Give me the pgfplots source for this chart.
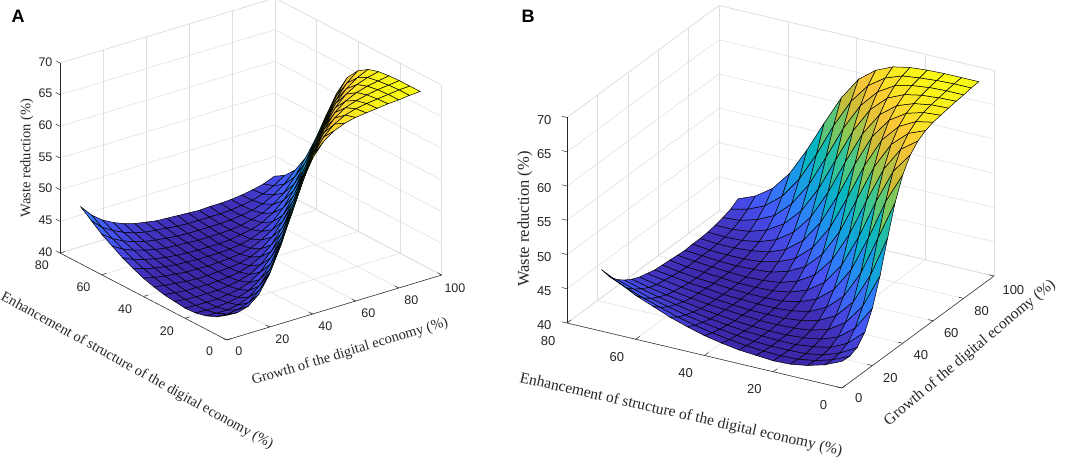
\documentclass[border=0pt]{standalone}
\usepackage{fontspec}
\setmainfont{Liberation Serif}
\setsansfont{Liberation Sans}
\usepackage{pgfplots}
\usepackage{pgfplotstable}
\pgfplotsset{compat=1.18}
\definecolor{axgray}{RGB}{38,38,38}
\definecolor{gridgray}{RGB}{222,222,222}
\pgfplotsset{colormap={parula}{rgb=(0.2422,0.1504,0.6603) rgb=(0.2803,0.3278,0.9604) rgb=(0.1800,0.5000,0.9800) rgb=(0.0800,0.6300,0.8800) rgb=(0.0250,0.7066,0.7580) rgb=(0.2186,0.7714,0.5832) rgb=(0.5312,0.7855,0.3386) rgb=(0.8200,0.7400,0.2100) rgb=(0.9900,0.7800,0.2200) rgb=(0.9769,0.9839,0.0805)}}
\pgfplotstableread{
x y z
0 0 43.9
5 0 43.8
10 0 44.3
15 0 45.7
20 0 48.4
25 0 52.3
30 0 57.0
35 0 61.4
40 0 64.6
45 0 66.7
50 0 67.9
55 0 68.6
60 0 69.0
65 0 69.2
70 0 69.4
75 0 69.6
80 0 69.7
85 0 69.9
90 0 70.0
0 5 42.8
5 5 42.7
10 5 42.9
15 5 43.5
20 5 44.9
25 5 47.3
30 5 51.0
35 5 55.6
40 5 60.1
45 5 63.7
50 5 66.1
55 5 67.6
60 5 68.5
65 5 69.0
70 5 69.3
75 5 69.5
80 5 69.7
85 5 69.9
90 5 70.0
0 10 42.1
5 10 42.0
10 10 42.0
15 10 42.3
20 10 43.0
25 10 44.3
30 10 46.5
35 10 49.9
40 10 54.2
45 10 58.7
50 10 62.6
55 10 65.4
60 10 67.2
65 10 68.3
70 10 68.9
75 10 69.3
80 10 69.6
85 10 69.8
90 10 70.0
0 15 41.7
5 15 41.6
10 15 41.6
15 15 41.8
20 15 42.1
25 15 42.7
30 15 43.9
35 15 45.9
40 15 49.0
45 15 53.0
50 15 57.4
55 15 61.5
60 15 64.6
65 15 66.7
70 15 68.0
75 15 68.8
80 15 69.3
85 15 69.6
90 15 69.9
0 20 41.6
5 20 41.5
10 20 41.5
15 20 41.5
20 20 41.7
25 20 42.0
30 20 42.6
35 20 43.7
40 20 45.5
45 20 48.2
50 20 51.9
55 20 56.2
60 20 60.3
65 20 63.7
70 20 66.1
75 20 67.7
80 20 68.7
85 20 69.3
90 20 69.7
0 25 41.8
5 25 41.6
10 25 41.5
15 25 41.5
20 25 41.5
25 25 41.7
30 25 42.0
35 25 42.5
40 25 43.5
45 25 45.1
50 25 47.6
55 25 50.9
60 25 55.0
65 25 59.1
70 25 62.7
75 25 65.4
80 25 67.2
85 25 68.4
90 25 69.2
0 30 42.0
5 30 41.8
10 30 41.6
15 30 41.6
20 30 41.5
25 30 41.6
30 30 41.7
35 30 42.0
40 30 42.5
45 30 43.4
50 30 44.8
55 30 47.0
60 30 50.1
65 30 53.9
70 30 58.0
75 30 61.7
80 30 64.6
85 30 66.7
90 30 68.1
0 35 42.4
5 35 42.1
10 35 41.9
15 35 41.7
20 35 41.6
25 35 41.6
30 35 41.7
35 35 41.8
40 35 42.0
45 35 42.5
50 35 43.3
55 35 44.6
60 35 46.6
65 35 49.4
70 35 53.0
75 35 56.9
80 35 60.7
85 35 63.8
90 35 66.2
0 40 42.9
5 40 42.5
10 40 42.2
15 40 42.0
20 40 41.8
25 40 41.8
30 40 41.7
35 40 41.8
40 40 41.9
45 40 42.1
50 40 42.5
55 40 43.3
60 40 44.4
65 40 46.2
70 40 48.8
75 40 52.1
80 40 55.9
85 40 59.7
90 40 62.9
0 45 43.6
5 45 43.0
10 45 42.6
15 45 42.3
20 45 42.1
25 45 42.0
30 45 41.9
35 45 41.9
40 45 41.9
45 45 42.0
50 45 42.2
55 45 42.6
60 45 43.3
65 45 44.3
70 45 46.0
75 45 48.3
80 45 51.3
85 45 54.9
90 45 58.6
0 50 44.4
5 50 43.6
10 50 43.1
15 50 42.7
20 50 42.4
25 50 42.2
30 50 42.1
35 50 42.0
40 50 42.0
45 50 42.0
50 50 42.1
55 50 42.4
60 50 42.7
65 50 43.3
70 50 44.3
75 50 45.8
80 50 47.9
85 50 50.7
90 50 54.1
0 55 45.4
5 55 44.4
10 55 43.7
15 55 43.2
20 55 42.8
25 55 42.5
30 55 42.4
35 55 42.3
40 55 42.2
45 55 42.2
50 55 42.2
55 55 42.3
60 55 42.5
65 55 42.9
70 55 43.4
75 55 44.3
80 55 45.6
85 55 47.6
90 55 50.1
0 60 46.4
5 60 45.2
10 60 44.3
15 60 43.7
20 60 43.2
25 60 42.9
30 60 42.7
35 60 42.5
40 60 42.4
45 60 42.4
50 60 42.4
55 60 42.4
60 60 42.5
65 60 42.7
70 60 43.0
75 60 43.5
80 60 44.4
85 60 45.6
90 60 47.3
0 65 47.7
5 65 46.1
10 65 45.1
15 65 44.3
20 65 43.7
25 65 43.3
30 65 43.1
35 65 42.9
40 65 42.7
45 65 42.6
50 65 42.6
55 65 42.6
60 65 42.6
65 65 42.7
70 65 42.9
75 65 43.2
80 65 43.7
85 65 44.5
90 65 45.6
0 70 49.0
5 70 47.2
10 70 45.9
15 70 45.0
20 70 44.3
25 70 43.8
30 70 43.5
35 70 43.2
40 70 43.1
45 70 43.0
50 70 42.9
55 70 42.8
60 70 42.9
65 70 42.9
70 70 43.0
75 70 43.2
80 70 43.5
85 70 43.9
90 70 44.6
}\wastedata
\pgfplotsset{
  wasteaxis/.style={
    anchor=origin,
    xmin=0,xmax=100,ymin=0,ymax=80,zmin=40,zmax=70,
    xtick={0,20,...,100}, ytick={0,20,...,80}, ztick={40,45,...,70},
    grid=major, grid style={gridgray, line width=0.5pt},
    axis line style={gridgray, line width=0.5pt},
    major tick length=0pt,
    /pgf/number format/assume math mode=true,
    colormap name=parula,
    point meta min=42.2, point meta max=70,
    clip=false,
    z buffer=sort,
  },
  wastesurf/.style={surf, shader=faceted, faceted color=black, line width=0.5pt, mesh/rows=15, mesh/cols=19},
}
\begin{document}
\begin{tikzpicture}
\useasboundingbox (0,0) rectangle (1065pt,461pt);
% Panel A
\begin{axis}[wasteaxis,
  at={(226.7pt,121pt)},
  x={(2.15pt,0.65pt)}, y={(-2.084pt,1.0875pt)}, z={(0pt,6.333pt)},
  ticklabel style={font=\sffamily\fontsize{12.5}{13}\selectfont, text=axgray},
  xticklabel style={xshift=7pt, yshift=-3pt},
  yticklabel style={xshift=-11pt, yshift=-3pt},
  zticklabel style={xshift=-4pt},
]
\addplot3[wastesurf] table {\wastedata};
\draw[axgray, line width=0.5pt] (axis cs:0,0,40) -- (axis cs:100,0,40);
\draw[axgray, line width=0.5pt] (axis cs:0,0,40) -- (axis cs:0,80,40);
\draw[axgray, line width=0.5pt] (axis cs:0,80,40) -- (axis cs:0,80,70);
\pgfplotsinvokeforeach{0,20,40,60,80,100}{\draw[axgray, line width=0.5pt] (axis cs:#1,0,40) -- (axis cs:#1,2,40);}
\pgfplotsinvokeforeach{0,20,40,60,80}{\draw[axgray, line width=0.5pt] (axis cs:0,#1,40) -- (axis cs:2.2,#1,40);}
\pgfplotsinvokeforeach{40,45,50,55,60,65,70}{\draw[axgray, line width=0.5pt] (axis cs:0,80,#1) -- (axis cs:0,82,#1);}
\end{axis}
% Panel B
\begin{axis}[wasteaxis,
  at={(842pt,73pt)},
  x={(1.52pt,1.12pt)}, y={(-3.4375pt,0.8125pt)}, z={(0pt,6.85pt)},
  ticklabel style={font=\sffamily\fontsize{13}{14}\selectfont, text=axgray},
  xticklabel style={xshift=10pt, yshift=-2pt},
  yticklabel style={xshift=-14pt, yshift=-8pt},
  zticklabel style={xshift=-12pt},
]
\addplot3[wastesurf] table {\wastedata};
\draw[axgray, line width=0.5pt] (axis cs:0,0,40) -- (axis cs:100,0,40);
\draw[axgray, line width=0.5pt] (axis cs:0,0,40) -- (axis cs:0,80,40);
\draw[axgray, line width=0.5pt] (axis cs:0,80,40) -- (axis cs:0,80,70);
\pgfplotsinvokeforeach{0,20,40,60,80,100}{\draw[axgray, line width=0.5pt] (axis cs:#1,0,40) -- (axis cs:#1,1.4,40);}
\pgfplotsinvokeforeach{0,20,40,60,80}{\draw[axgray, line width=0.5pt] (axis cs:0,#1,40) -- (axis cs:2.6,#1,40);}
\pgfplotsinvokeforeach{40,45,50,55,60,65,70}{\draw[axgray, line width=0.5pt] (axis cs:0,80,#1) -- (axis cs:0,81.5,#1);}
\end{axis}
% axis titles
\begin{scope}[every node/.style={text=axgray, inner sep=0pt}]
\node[font=\fontsize{14.5}{15}\selectfont, rotate=90] at (27pt,303pt) {Waste reduction (\%)};
\node[font=\fontsize{14.5}{15}\selectfont, rotate=16.8] at (350pt,109pt) {Growth of the digital economy (\%)};
\node[font=\fontsize{14.5}{15}\selectfont, rotate=-29] at (137pt,90pt) {Enhancement of structure of the digital economy (\%)};
\node[font=\fontsize{16.5}{17}\selectfont, rotate=90] at (525pt,242pt) {Waste reduction (\%)};
\node[font=\fontsize{15.5}{16}\selectfont, rotate=-12.8] at (681pt,46pt) {Enhancement of structure of the digital economy (\%)};
\node[font=\fontsize{15.5}{16}\selectfont, rotate=40] at (970pt,108pt) {Growth of the digital economy (\%)};
\node[font=\sffamily\bfseries\fontsize{18}{18}\selectfont, text=black] at (18pt,445pt) {A};
\node[font=\sffamily\bfseries\fontsize{18}{18}\selectfont, text=black] at (528pt,445pt) {B};
\end{scope}
\end{tikzpicture}
\end{document}
